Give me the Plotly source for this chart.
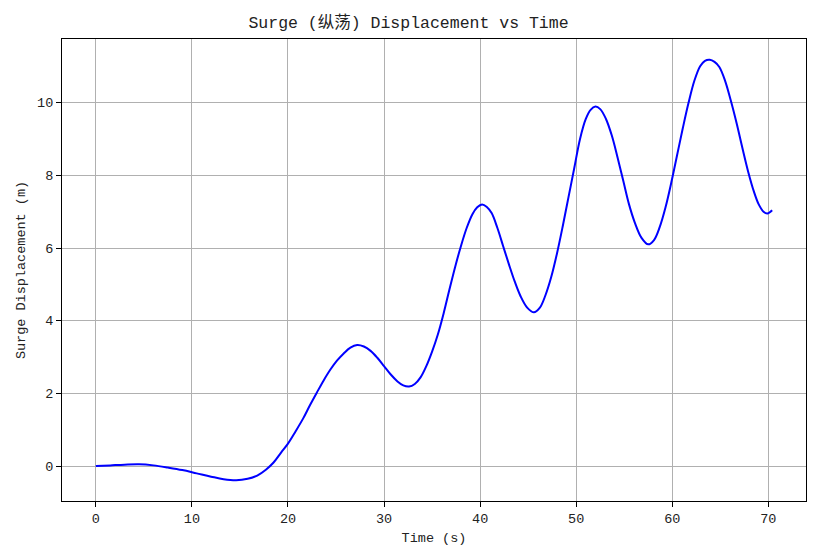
import plotly.graph_objects as go

time_s = [0, 1.5, 3, 4.5, 6, 7.5, 9, 10.5, 12, 13.3, 14.6, 15.8, 16.8, 17.7, 18.5,
          19.3, 20.0, 20.8, 21.6, 22.3, 23.0, 23.7, 24.4, 25.1, 25.8, 26.5, 27.2, 27.9, 28.6,
          29.3, 30.0, 30.7, 31.4, 32.0, 32.6, 33.2, 33.8, 34.4, 35.0, 35.6, 36.2, 36.8, 37.4,
          38.0, 38.6, 39.2, 39.7, 40.2, 40.7, 41.2, 41.8, 42.4, 43.0, 43.6, 44.2, 44.9, 45.6,
          46.2, 46.8, 47.4, 48.0, 48.6, 49.2, 49.8, 50.4, 51.0, 51.5, 52.0, 52.5, 53.1, 53.7,
          54.3, 54.9, 55.5, 56.1, 56.8, 57.5, 58.1, 58.7, 59.3, 59.9, 60.5, 61.1, 61.7, 62.3,
          62.9, 63.4, 63.9, 64.4, 64.9, 65.5, 66.1, 66.7, 67.3, 67.9, 68.5, 69.0, 69.5, 69.9,
          70.4]
surge_m = [0, 0.02, 0.04, 0.05, 0.02, -0.04, -0.11, -0.2, -0.29, -0.36, -0.39, -0.35, -0.26,
           -0.1, 0.1,
           0.38, 0.62, 0.96, 1.32, 1.68, 2.02, 2.35, 2.65, 2.9, 3.1, 3.26, 3.33, 3.29, 3.17,
           2.98, 2.75, 2.52, 2.33, 2.22, 2.19, 2.26, 2.44, 2.75, 3.15, 3.62, 4.2, 4.85, 5.48,
           6.05, 6.55, 6.93, 7.12, 7.2, 7.13, 6.96, 6.55, 6.05, 5.55, 5.08, 4.68, 4.36, 4.23,
           4.35, 4.7, 5.2, 5.85, 6.6, 7.4, 8.2, 9.0, 9.55, 9.8, 9.89, 9.82, 9.55, 9.1,
           8.5, 7.85, 7.2, 6.7, 6.28, 6.1, 6.22, 6.58, 7.12, 7.8, 8.55, 9.3, 10.0, 10.6,
           11.0, 11.15, 11.18, 11.12, 10.98, 10.6, 10.05, 9.43, 8.75, 8.1, 7.55, 7.2, 7.0, 6.95,
           7.04]

x_ticks = [0, 10, 20, 30, 40, 50, 60, 70]
y_ticks = [0, 2, 4, 6, 8, 10]

FONT = "Liberation Mono, Noto Sans CJK SC, monospace"

fig = go.Figure()
fig.add_trace(go.Scatter(x=time_s, y=surge_m, mode="lines",
                         line=dict(color="#0000ff", width=2, shape="spline", smoothing=1.0),
                         showlegend=False))

axis_common = dict(showline=True, linecolor="black", linewidth=1.1, mirror=True,
                   ticks="outside", ticklen=5, tickwidth=1.1, tickcolor="black",
                   showgrid=True, gridcolor="#b0b0b0", gridwidth=1.1, zeroline=False,
                   automargin=False,
                   tickfont=dict(family=FONT, size=13.5, color="#222"))

fig.update_layout(
    width=817, height=558,
    margin=dict(l=62, r=11, t=39, b=57, autoexpand=False),
    paper_bgcolor="white", plot_bgcolor="white",
    font=dict(family=FONT, color="#222"),
    title=dict(text="Surge (纵荡) Displacement vs Time", x=0.5, xanchor="center",
               y=1 - 22 / 558, yanchor="middle", yref="container",
               font=dict(family=FONT, size=16.5, color="#222")),
    xaxis=dict(range=[-3.52, 73.92], tickvals=x_ticks, ticktext=[str(v) for v in x_ticks],
               title=dict(text="Time (s)", font=dict(family=FONT, size=13.5), standoff=6),
               **axis_common),
    yaxis=dict(range=[-0.96, 11.75], tickvals=y_ticks, ticktext=[str(v) for v in y_ticks],
               title=dict(text="Surge Displacement (m)", font=dict(family=FONT, size=13.5), standoff=8),
               **axis_common),
)

fig.write_html("out.html", config={"displayModeBar": False},
               post_script="document.body.style.margin='0';document.body.style.overflow='hidden';")
